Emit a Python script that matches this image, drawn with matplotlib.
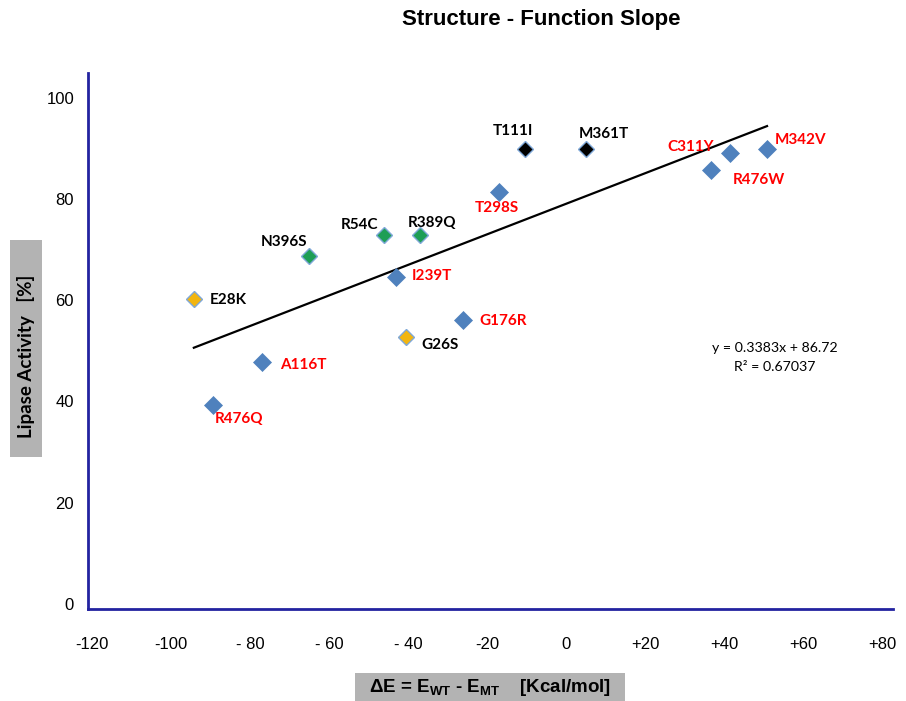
import numpy as np
import matplotlib
matplotlib.use("Agg")
import matplotlib.pyplot as plt
from matplotlib.patches import Rectangle

plt.rcParams['font.family'] = ['Liberation Sans', 'DejaVu Sans']
plt.rcParams['mathtext.fontset'] = 'custom'
plt.rcParams['mathtext.rm'] = 'Liberation Sans'
plt.rcParams['mathtext.bf'] = 'Liberation Sans:bold'

# mutations, delta E (display units) and lipase activity [%]
names = ['E28K', 'R476Q', 'A116T', 'N396S', 'R54C', 'R389Q', 'I239T', 'G26S',
         'G176R', 'T298S', 'T111I', 'M361T', 'R476W', 'C311Y', 'M342V']
delta_e = [-94.2, -89.4, -77.0, -65.1, -46.1, -37.0, -43.0, -40.5,
           -26.1, -17.0, -10.4, 5.1, 36.7, 41.5, 50.9]
activity = [60.3, 39.3, 47.8, 68.8, 72.9, 72.9, 64.6, 52.8,
            56.1, 81.4, 89.9, 89.9, 85.8, 89.1, 89.9]
groups = ['yellow', 'blue', 'blue', 'green', 'green', 'green', 'blue', 'yellow',
          'blue', 'blue', 'black', 'black', 'blue', 'blue', 'blue']

x_ticks = [-120, -100, -80, -60, -40, -20, 0, 20, 40, 60, 80]
x_tick_labels = ['-120', '-100', '- 80', '- 60', '- 40', '-20', '0', '+20', '+40', '+60', '+80']
y_ticks = [0, 20, 40, 60, 80, 100]

# label offsets in pixels (text centre relative to point)
label_offsets = {
    'E28K': (34, -1), 'R476Q': (26, -14), 'A116T': (42, -3), 'N396S': (-25, 14),
    'R54C': (-24, 10), 'R389Q': (12, 12), 'I239T': (36, 1), 'G26S': (34, -8),
    'G176R': (40, -1), 'T298S': (-2, -16), 'T111I': (-12, 18), 'M361T': (18, 15),
    'C311Y': (-39, 6), 'R476W': (48, -10), 'M342V': (34, 9),
}

styles = {
    'blue': dict(color='#4F81BD', ms=9.5, mec='#4F81BD', mew=0.5),
    'green': dict(color='#1E9E55', ms=8, mec='#7FA8D8', mew=1.0),
    'yellow': dict(color='#F2B50F', ms=8, mec='#7FA8D8', mew=1.0),
    'black': dict(color='#000000', ms=8, mec='#7FA8D8', mew=1.0),
}

fig = plt.figure(figsize=(9.06, 7.01), dpi=100)
ax = fig.add_axes([0.0971, 0.1312, 0.8886, 0.7647])

for xv, yv, g in zip(delta_e, activity, groups):
    s = styles[g]
    ax.plot(xv, yv, marker='D', linestyle='none', color=s['color'],
            markersize=s['ms'], markeredgecolor=s['mec'], markeredgewidth=s['mew'], zorder=3)

# linear trend line over the data range
slope, intercept = np.polyfit(delta_e, activity, 1)
tx = np.array([min(delta_e), max(delta_e)])
ax.plot(tx, slope * tx + intercept, color='black', lw=1.6, zorder=2)

for n, xv, yv, g in zip(names, delta_e, activity, groups):
    dx, dy = label_offsets[n]
    ax.annotate(n, (xv, yv), xytext=(dx, dy), textcoords='offset pixels',
                ha='center', va='center', fontsize=11, fontweight='bold',
                family=['Lato', 'DejaVu Sans'],
                color='#FF0000' if g == 'blue' else 'black')

fig.text(775 / 906, 1 - 348 / 701, 'y = 0.3383x + 86.72', ha='center', va='center',
         fontsize=10.2, family=['Lato', 'DejaVu Sans'])
fig.text(775 / 906, 1 - 367 / 701, 'R² = 0.67037', ha='center', va='center',
         fontsize=10.2, family=['Lato', 'DejaVu Sans'])

ax.set_xlim(-121, 82.8)
ax.set_ylim(-1, 104.9)
ax.set_xticks(x_ticks)
ax.set_xticklabels(x_tick_labels)
ax.set_yticks(y_ticks)
ax.tick_params(length=0, labelsize=12)
ax.tick_params(axis='x', pad=20)
ax.tick_params(axis='y', pad=10)
for side in ['top', 'right']:
    ax.spines[side].set_visible(False)
for side in ['left', 'bottom']:
    ax.spines[side].set_color('#2323A0')
    ax.spines[side].set_linewidth(2)

fig.text(541 / 906, 1 - 20 / 701, 'Structure - Function Slope', ha='center', va='center',
         fontsize=16, fontweight='bold')

# grey label boxes
fig.patches.append(Rectangle((10 / 906, 1 - 457 / 701), 32 / 906, 217 / 701,
                             transform=fig.transFigure, facecolor='#B3B3B3', edgecolor='none'))
fig.patches.append(Rectangle((355 / 906, 0), 270 / 906, 28 / 701,
                             transform=fig.transFigure, facecolor='#B3B3B3', edgecolor='none'))

fig.text(26 / 906, 1 - 356 / 701, 'Lipase Activity   [%]', rotation=90, ha='center', va='center',
         fontsize=13.5, fontweight='bold', family=['Lato', 'DejaVu Sans'])
fig.text(490 / 906, 1 - 687 / 701,
         r'$\mathbf{\Delta E}$ = $\mathbf{E_{WT}}$ - $\mathbf{E_{MT}}$    [Kcal/mol]',
         ha='center', va='center', fontsize=13.5, fontweight='bold')

fig.savefig('out.png', dpi=100)
